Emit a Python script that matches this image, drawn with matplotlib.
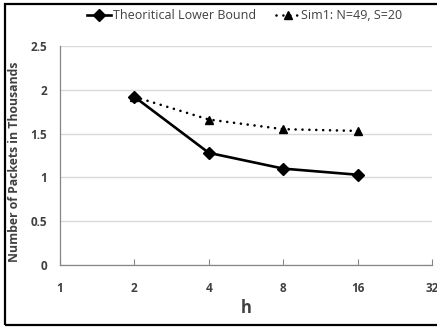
import matplotlib.pyplot as plt
from matplotlib.patches import Rectangle

plt.rcParams['font.family'] = ['Open Sans', 'DejaVu Sans']

# data
h = [2, 4, 8, 16]
lower_bound = [1.92, 1.28, 1.10, 1.03]
sim1 = [1.92, 1.66, 1.55, 1.53]
xticks = [1, 2, 4, 8, 16, 32]
yticks = [0, 0.5, 1, 1.5, 2, 2.5]

fig = plt.figure(figsize=(4.37, 3.28), dpi=100)
ax = fig.add_axes([0.137, 0.192, 0.852, 0.668])

ax.plot(h, lower_bound, color='black', lw=1.9, marker='D', ms=6,
        label='Theoritical Lower Bound')
ax.plot(h, sim1, color='black', lw=1.9, ls=(0, (0.01, 2.6)),
        dash_capstyle='round', marker='^', ms=6, label='Sim1: N=49, S=20')

ax.set_xscale('log', base=2)
ax.set_xlim(1, 32)
ax.set_ylim(0, 2.5)
ax.set_xticks(xticks)
ax.set_xticklabels([str(t) for t in xticks])
ax.minorticks_off()
ax.set_yticks(yticks)
ax.set_yticklabels(['0', '0.5', '1', '1.5', '2', '2.5'])

ax.grid(axis='y', color='#d9d9d9', lw=1)
ax.set_axisbelow(True)
for s in ['top', 'right']:
    ax.spines[s].set_visible(False)
for s in ['left', 'bottom']:
    ax.spines[s].set_color('#868686')
    ax.spines[s].set_linewidth(0.9)

ax.tick_params(axis='x', direction='in', length=4, color='#868686',
               pad=12, labelsize=8.5, labelcolor='#404040')
ax.tick_params(axis='y', length=0, pad=9, labelsize=8.5, labelcolor='#404040')
for lbl in ax.get_xticklabels() + ax.get_yticklabels():
    lbl.set_fontweight('bold')

ax.set_xlabel('h', fontsize=12, fontweight='bold', color='#404040', labelpad=3)
ax.set_ylabel('Number of Packets in Thousands', fontsize=8.8,
              fontweight='bold', color='#404040')
ax.yaxis.set_label_coords(-0.104, 0.47)

leg = fig.legend(loc='center', bbox_to_anchor=(0.56, 0.953), ncol=2,
                 frameon=False, fontsize=9, handlelength=1.9,
                 handletextpad=0.15, columnspacing=1.6, labelcolor='#404040',
                 borderaxespad=0, borderpad=0)

# chart border
fig.patches.append(Rectangle((5 / 437, 3 / 328), 1.0, 321 / 328,
                             transform=fig.transFigure, fill=False,
                             edgecolor='black', lw=1.6, clip_on=False))

fig.savefig('out.png', dpi=100)
